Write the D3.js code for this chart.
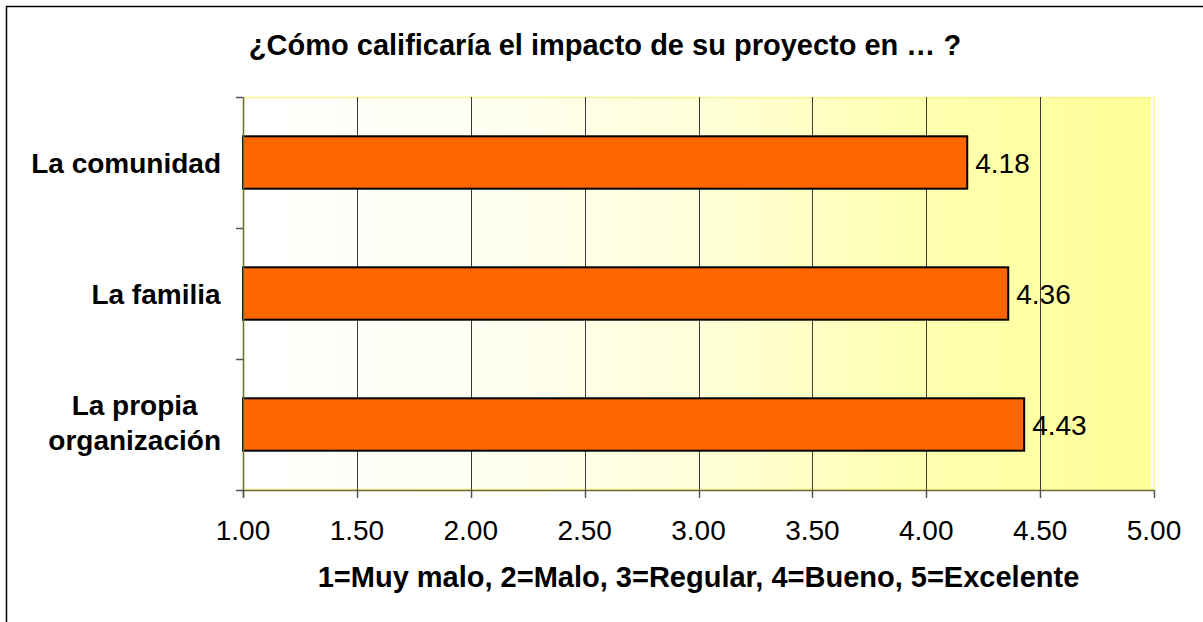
<!DOCTYPE html>
<html>
<head>
<meta charset="utf-8">
<script src="https://cdn.jsdelivr.net/npm/d3@7"></script>
<style>
  html, body { margin: 0; padding: 0; background: #fff; }
  svg { display: block; font-family: "Liberation Sans", Arial, sans-serif; }
</style>
</head>
<body>
<svg id="chart" width="1203" height="622"></svg>
<script>
// Survey ratings: average impact score per scope
const categories = ["La comunidad", "La familia", "La propia organización"];
const values = [4.18, 4.36, 4.43];
const tickValues = [1.0, 1.5, 2.0, 2.5, 3.0, 3.5, 4.0, 4.5, 5.0];
const titleText = "¿Cómo calificaría el impacto de su proyecto en … ?";
const axisTitleText = "1=Muy malo, 2=Malo, 3=Regular, 4=Bueno, 5=Excelente";

const svg = d3.select("#chart");
const plot = { left: 243, right: 1154, top: 97, bottom: 490 };

// Outer frame of the chart
svg.append("rect")
  .attr("x", 6.5).attr("y", 6.5)
  .attr("width", 1220).attr("height", 640)
  .attr("fill", "#fff")
  .attr("stroke", "#000").attr("stroke-width", 1.5);

// Plot area background: white fading to pale yellow
const defs = svg.append("defs");
const grad = defs.append("linearGradient")
  .attr("id", "plotFill").attr("x1", "0%").attr("x2", "100%").attr("y1", "0%").attr("y2", "0%");
[[0, "#ffffff"], [0.25, "#fffff3"], [0.5, "#ffffda"], [0.75, "#ffffb0"], [1, "#ffff99"]]
  .forEach(([o, c]) => grad.append("stop").attr("offset", o).attr("stop-color", c));

const x = d3.scaleLinear().domain([1, 5]).range([plot.left, plot.right]);
const y = d3.scaleBand().domain(categories)
  .range([plot.top, plot.bottom]).paddingInner(0.6).paddingOuter(0.3);

svg.append("rect")
  .attr("x", plot.left).attr("y", plot.top)
  .attr("width", plot.right - plot.left - 3).attr("height", plot.bottom - plot.top)
  .attr("fill", "url(#plotFill)");
svg.append("rect")
  .attr("x", plot.left + 0.5).attr("y", plot.top + 0.5)
  .attr("width", plot.right - plot.left - 0.5).attr("height", plot.bottom - plot.top - 1)
  .attr("fill", "none").attr("stroke", "#f6f690").attr("stroke-width", 1.5);

// Vertical gridlines
svg.append("g")
  .selectAll("line")
  .data(tickValues.slice(1, -1))
  .join("line")
  .attr("x1", d => Math.round(x(d)) + 0.5).attr("x2", d => Math.round(x(d)) + 0.5)
  .attr("y1", plot.top).attr("y2", plot.bottom)
  .attr("stroke", "#3a3a3a").attr("stroke-width", 1);

// Bars
svg.append("g")
  .selectAll("rect")
  .data(categories)
  .join("rect")
  .attr("x", x(1))
  .attr("y", d => y(d))
  .attr("width", (d, i) => x(values[i]) - x(1))
  .attr("height", y.bandwidth())
  .attr("fill", "#ff6600")
  .attr("stroke", "#000").attr("stroke-width", 2);

// Value labels
svg.append("g")
  .selectAll("text")
  .data(categories)
  .join("text")
  .attr("x", (d, i) => x(values[i]) + 8)
  .attr("y", d => y(d) + y.bandwidth() / 2 + 10)
  .attr("font-size", 28)
  .attr("fill", "#000")
  .text((d, i) => values[i].toFixed(2));

// Y axis
const yAxis = svg.append("g")
  .attr("transform", `translate(${plot.left},0)`);
yAxis.append("line")
  .attr("x1", 0.5).attr("x2", 0.5).attr("y1", plot.top).attr("y2", plot.bottom + 7)
  .attr("stroke", "#6e6e3a").attr("stroke-width", 1.5);
const bandEdges = categories.map(c => y(c) - y.step() * y.paddingInner() / 2)
  .concat([plot.bottom]);
bandEdges[0] = plot.top;
yAxis.selectAll("line.tick")
  .data(bandEdges)
  .join("line")
  .attr("class", "tick")
  .attr("x1", -7).attr("x2", 0)
  .attr("y1", d => Math.round(d) + 0.5).attr("y2", d => Math.round(d) + 0.5)
  .attr("stroke", "#555").attr("stroke-width", 1.5);

// Category labels (bold, wrapped, lines centred, block right edge at x = 221)
const catLines = {
  "La comunidad": ["La comunidad"],
  "La familia": ["La familia"],
  "La propia organización": ["La propia", "organización"]
};
const catLabels = svg.append("g")
  .selectAll("text")
  .data(categories)
  .join("text")
  .attr("text-anchor", "middle")
  .attr("font-size", 28)
  .attr("font-weight", "bold")
  .attr("fill", "#000")
  .each(function (d) {
    const lines = catLines[d];
    const cy = y(d) + y.bandwidth() / 2;
    const t = d3.select(this);
    const firstBaseline = lines.length > 1 ? cy - 10 : cy + 10;
    lines.forEach((ln, k) => {
      t.append("tspan")
        .attr("x", 0)
        .attr("y", firstBaseline + k * 35)
        .text(ln);
    });
  });
catLabels.each(function () {
  const bb = this.getBBox();
  const shift = 221 - (bb.x + bb.width);
  d3.select(this).selectAll("tspan").attr("x", shift);
});

// X axis
const xAxis = svg.append("g")
  .attr("transform", `translate(0,${plot.bottom})`);
xAxis.append("line")
  .attr("x1", plot.left).attr("x2", plot.right).attr("y1", 0.5).attr("y2", 0.5)
  .attr("stroke", "#6e6e3a").attr("stroke-width", 1.5);
xAxis.selectAll("line.tick")
  .data(tickValues)
  .join("line")
  .attr("class", "tick")
  .attr("x1", d => Math.round(x(d)) + 0.5).attr("x2", d => Math.round(x(d)) + 0.5)
  .attr("y1", 0).attr("y2", 8)
  .attr("stroke", "#555").attr("stroke-width", 1.5);
xAxis.selectAll("text")
  .data(tickValues)
  .join("text")
  .attr("x", d => x(d))
  .attr("y", 50)
  .attr("text-anchor", "middle")
  .attr("font-size", 28)
  .attr("fill", "#000")
  .text(d => d3.format(".2f")(d));

// Axis title
svg.append("text")
  .attr("x", (plot.left + plot.right) / 2)
  .attr("y", 587)
  .attr("text-anchor", "middle")
  .attr("font-size", 29)
  .attr("font-weight", "bold")
  .attr("fill", "#000")
  .text(axisTitleText);

// Chart title
svg.append("text")
  .attr("x", 605)
  .attr("y", 55)
  .attr("text-anchor", "middle")
  .attr("font-size", 29)
  .attr("font-weight", "bold")
  .attr("fill", "#000")
  .text(titleText);
</script>
</body>
</html>
